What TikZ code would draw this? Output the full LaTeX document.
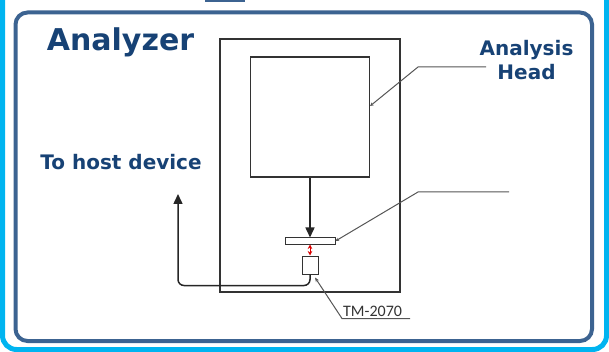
\documentclass[tikz,border=0pt]{standalone}
\usepackage{fontspec}
\setmainfont{DejaVu Sans}
\newfontfamily\tagfont{Carlito}
\usepackage{xcolor}
\usepackage{tikz}
\usetikzlibrary{arrows.meta,positioning,calc}

\definecolor{framecyan}{HTML}{00B4F0}
\definecolor{frameblue}{HTML}{3C6391}
\definecolor{titleblue}{HTML}{174275}
\definecolor{leadergray}{HTML}{555555}

\begin{document}
\begin{tikzpicture}[
  x=1pt, y=-1pt,
  part/.style={draw=black!80, line width=1.2pt, minimum width=#1, inner sep=0pt},
  title/.style={text=titleblue, font=\bfseries\fontsize{20}{24}\selectfont, inner sep=0pt, align=center},
  leader/.style={draw=leadergray, line width=1pt},
  flow/.style={-{Triangle[length=10pt,width=9pt]}, line width=1.5pt, black!85},
  tag/.style={font=\tagfont\fontsize{16}{18}\selectfont, text=black!80, inner sep=0pt}
]
\useasboundingbox (0,0) rectangle (609,352);
\clip (0,0) rectangle (609,352);

% frames
\draw[framecyan, line width=5pt, rounded corners=14pt] (2.5,-20) rectangle (606.5,349.5);
\fill[frameblue] (205,0) rectangle (245,2.5);
\draw[frameblue, line width=4pt, rounded corners=12pt] (15.5,12.5) rectangle (592,341);

% analyzer parts
\node[part=180pt, minimum height=253pt] (analyzer) at (310,165.5) {};
\node[part=119pt, minimum height=120pt] (head) at (310,117) {};
\node[part=50pt, minimum height=6pt, line width=1pt] (sample) at (310,241) {};
\node[part=16pt, minimum height=18pt, line width=1pt] (sensor) at (310,265) {};

% labels
\node[title, anchor=base, font=\bfseries\fontsize{30}{36}\selectfont] (name) at (120.5,51) {Analyzer};
\node[title, anchor=base] (hostlabel) at (121,170) {To host device};
\node[title, anchor=north] (headlabel) at (526.5,40) {Analysis\\Head};
\node[tag, anchor=base west] (tmlabel) at (343,316) {TM-2070};

\coordinate (host) at (178,194);
\coordinate (headtag) at (486,67);
\coordinate (sampletag) at (509,192);
\coordinate (tmtag) at (410,318.5);

\draw[flow] (head.south) -- (sample.north);
\draw[{Stealth[length=4.5pt,width=4.5pt]}-{Stealth[length=4.5pt,width=4.5pt]}, red!85!black, line width=0.9pt] (sample.south) -- (sensor.north);
\draw[flow, rounded corners=6pt] (sensor.south) -- ++(0,11) -| (host);

% leaders
\draw[leader, -{Stealth[length=3.5pt,width=3.5pt]}] (headtag) -- (418,67) -- ([yshift=11pt]head.east);
\draw[leader, -{Stealth[length=3.5pt,width=3.5pt]}] (sampletag) -- (418,192) -- (sample.east);
\draw[leader, -{Stealth[length=4.5pt,width=3.5pt]}] (tmtag) -- (342,318.5) -- ([shift={(5pt,-3pt)}]sensor.south);
\end{tikzpicture}
\end{document}
